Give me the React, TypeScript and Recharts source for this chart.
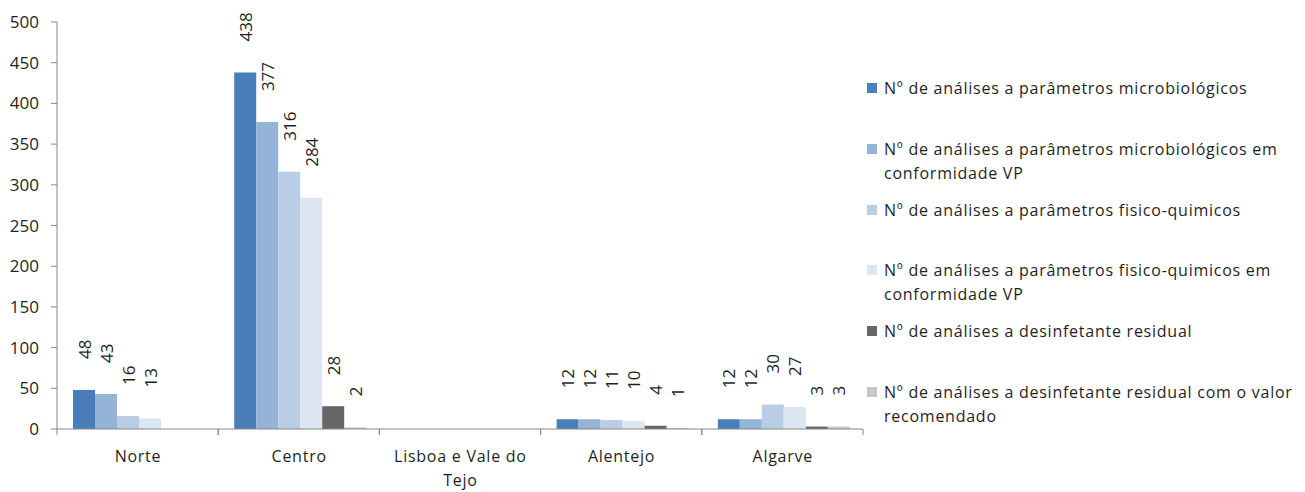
import React from "react";
import { BarChart, Bar, XAxis, YAxis, LabelList } from "recharts";

const categories = ["Norte", "Centro", "Lisboa e Vale do Tejo", "Alentejo", "Algarve"];
const microTotal = [48, 438, null, 12, 12];
const microVP = [43, 377, null, 12, 12];
const fqTotal = [16, 316, null, 11, 30];
const fqVP = [13, 284, null, 10, 27];
const desinf = [null, 28, null, 4, 3];
const desinfRec = [null, 2, null, 1, 3];
const yTicks = [0, 50, 100, 150, 200, 250, 300, 350, 400, 450, 500];

const seriesNames = [
  "Nº de análises a parâmetros microbiológicos",
  "Nº de análises a parâmetros microbiológicos em conformidade VP",
  "Nº de análises a parâmetros fisico-quimicos",
  "Nº de análises a parâmetros fisico-quimicos em conformidade VP",
  "Nº de análises a desinfetante residual",
  "Nº de análises a desinfetante residual com o valor recomendado",
];
const seriesColors = ["#4A7EBB", "#95B3D7", "#B9CDE5", "#DCE6F2", "#666666", "#C8C8C8"];
const seriesValues = [microTotal, microVP, fqTotal, fqVP, desinf, desinfRec];

const data = categories.map((c, i) => {
  const row: Record<string, any> = { name: c };
  seriesValues.forEach((s, k) => {
    row["s" + k] = s[i];
  });
  return row;
});

const FONT = "'Open Sans', Lato, sans-serif";
const TEXT = "#1f1f1f";
const AXIS = "#868686";
const NUM_SIZE = 17;
const TXT_SIZE = 16;
const TXT_SPACING = 0.75;

const CHART_W = 1289;
const CHART_H = 484;
const MARGIN = { top: 14, right: 434, bottom: 0, left: 0 };
const YAXIS_W = 49;
const PLOT_W = CHART_W - MARGIN.right - MARGIN.left - YAXIS_W;
const PLOT_H = 407;

const renderLabel = (props: any) => {
  const { x, y, width, value } = props;
  if (value === null || value === undefined) return null;
  const cx = Number(x) + Number(width) / 2;
  const ty = Number(y) - 31;
  return (
    <text
      transform={`translate(${cx},${ty}) rotate(-90)`}
      textAnchor="start"
      dominantBaseline="central"
      fontFamily={FONT}
      fontSize={NUM_SIZE}
      fill={TEXT}
    >
      {value}
    </text>
  );
};

const CategoryTick = (props: any) => {
  const { x, y, payload } = props;
  const band = PLOT_W / categories.length;
  const label: string = payload.value;
  const lines = label === "Lisboa e Vale do Tejo" ? ["Lisboa e Vale do", "Tejo"] : [label];
  const ay = Number(y);
  return (
    <g>
      <line x1={x - band / 2} x2={x - band / 2} y1={ay} y2={ay + 6} stroke={AXIS} strokeWidth={1} />
      <line x1={x + band / 2} x2={x + band / 2} y1={ay} y2={ay + 6} stroke={AXIS} strokeWidth={1} />
      {lines.map((l, i) => (
        <text
          key={i}
          x={x + TXT_SPACING / 2}
          y={ay + 33 + i * 24}
          textAnchor="middle"
          fontFamily={FONT}
          fontSize={TXT_SIZE}
          letterSpacing={TXT_SPACING}
          fill={TEXT}
        >
          {l}
        </text>
      ))}
    </g>
  );
};

export default function App() {
  return (
    <div style={{ position: "relative", width: CHART_W, height: CHART_H, fontFamily: FONT }}>
      <BarChart
        width={CHART_W}
        height={CHART_H}
        data={data}
        margin={MARGIN}
        barGap={0}
        barCategoryGap={16}
      >
        <XAxis
          dataKey="name"
          height={CHART_H - MARGIN.top - PLOT_H}
          axisLine={{ stroke: AXIS }}
          tickLine={false}
          tickSize={0}
          tickMargin={0}
          tick={<CategoryTick />}
          interval={0}
        />
        <YAxis
          width={YAXIS_W}
          domain={[0, 500]}
          ticks={yTicks}
          axisLine={{ stroke: AXIS }}
          tickLine={{ stroke: AXIS }}
          tickSize={6}
          tickMargin={12}
          tick={{ fill: TEXT, fontSize: NUM_SIZE, fontFamily: FONT }}
          interval={0}
        />
        {seriesNames.map((n, k) => (
          <Bar key={k} dataKey={"s" + k} name={n} fill={seriesColors[k]} isAnimationActive={false}>
            <LabelList dataKey={"s" + k} content={renderLabel} />
          </Bar>
        ))}
      </BarChart>
      <div style={{ position: "absolute", left: 859, top: 68, width: 430 }}>
        {seriesNames.map((n, k) => (
          <div key={k} style={{ height: 60.8, position: "relative" }}>
            <div
              style={{
                position: "absolute",
                left: 0,
                top: 7,
                width: 10,
                height: 10,
                background: seriesColors[k],
              }}
            />
            <div
              style={{
                marginLeft: 17,
                width: 418,
                fontSize: TXT_SIZE,
                letterSpacing: TXT_SPACING,
                lineHeight: "24px",
                color: TEXT,
                fontFamily: FONT,
              }}
            >
              {n}
            </div>
          </div>
        ))}
      </div>
    </div>
  );
}
